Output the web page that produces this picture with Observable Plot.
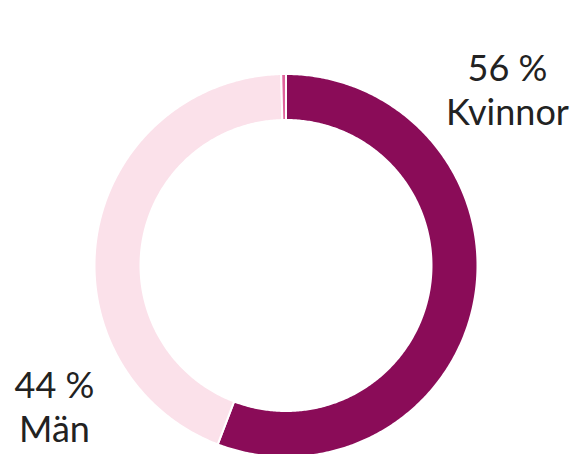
<!DOCTYPE html>
<html>
<head>
<meta charset="utf-8">
<script src="https://cdn.jsdelivr.net/npm/d3@7"></script>
<script src="https://cdn.jsdelivr.net/npm/@observablehq/plot@0.6"></script>
<style>
  html, body { margin: 0; padding: 0; background: #fff; overflow: hidden; }
  #chart svg { display: block; }
</style>
</head>
<body>
<div id="chart"></div>
<script>
// Data
const categories = ["Kvinnor", "Män", "Övrigt"];
const shares = [55.8, 43.8, 0.4];
const percentLabels = ["56 %", "44 %", ""];
const colors = ["#8a0c58", "#fbe1ea", "#e0649c"];

// Layout
const W = 579, H = 454;
const cx = 285.5, cy = 265, R = 191.5, r = 145.5;

const rows = categories.map((c, i) => ({category: c, value: shares[i], label: percentLabels[i]}));
const pie = d3.pie().sort(null).value(d => d.value)(rows);

// Build ring-slice polygons from pie angles
const pts = [];
for (const s of pie) {
  const n = Math.max(2, Math.ceil((s.endAngle - s.startAngle) / 0.01));
  const poly = [];
  for (let k = 0; k <= n; k++) {
    const a = s.startAngle + (s.endAngle - s.startAngle) * k / n;
    poly.push({category: s.data.category, x: cx + R * Math.sin(a), y: cy - R * Math.cos(a)});
  }
  for (let k = n; k >= 0; k--) {
    const a = s.startAngle + (s.endAngle - s.startAngle) * k / n;
    poly.push({category: s.data.category, x: cx + r * Math.sin(a), y: cy - r * Math.cos(a)});
  }
  pts.push(...poly);
}

const fs = 36, lh = 44;
const labelRows = [
  {t: percentLabels[0], x: 507, y: 80 - 0.32 * fs},
  {t: categories[0], x: 507, y: 80 + lh - 0.32 * fs},
  {t: percentLabels[1], x: 54, y: 397 - 0.32 * fs},
  {t: categories[1], x: 54, y: 397 + lh - 0.32 * fs}
];

const chart = Plot.plot({
  width: W,
  height: H,
  margin: 0,
  x: {domain: [0, W], range: [0, W], axis: null},
  y: {domain: [0, H], range: [0, H], axis: null},
  color: {domain: categories, range: colors},
  style: {fontFamily: "Lato, sans-serif", background: "#fff", overflow: "hidden"},
  marks: [
    Plot.line(pts, {x: "x", y: "y", z: "category", fill: "category", stroke: "white", strokeWidth: 2, curve: "linear-closed"}),
    Plot.text(labelRows, {x: "x", y: "y", text: "t", fontSize: fs, fill: "#222", textAnchor: "middle"})
  ]
});
document.getElementById("chart").append(chart);
</script>
</body>
</html>
